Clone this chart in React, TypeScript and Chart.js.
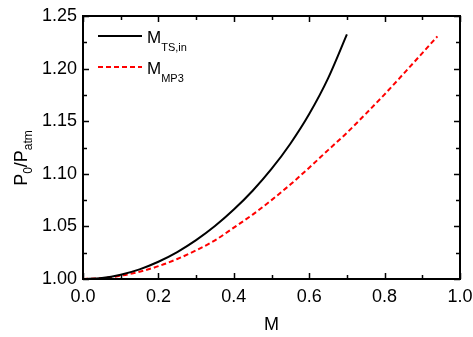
import React, { useEffect, useRef } from "react";
import { Chart, registerables } from "chart.js";

Chart.register(...registerables);

const mTS = [0, 0.05, 0.1, 0.15, 0.2, 0.25, 0.3, 0.35, 0.4, 0.45, 0.5, 0.55, 0.6, 0.65, 0.7];
const p0TS = [1.0, 1.001, 1.0041, 1.0092, 1.0164, 1.0256, 1.0369, 1.0503, 1.066, 1.0839, 1.1046, 1.1286, 1.1568, 1.1907, 1.2325];

const mMP3 = [0, 0.05, 0.1, 0.15, 0.2, 0.25, 0.3, 0.35, 0.4, 0.45, 0.5, 0.55, 0.6, 0.65, 0.7, 0.75, 0.8, 0.85, 0.9, 0.94];
const p0MP3 = [1.0, 1.0008, 1.0031, 1.0069, 1.0122, 1.019, 1.0272, 1.0368, 1.0488, 1.0612, 1.075, 1.0898, 1.1058, 1.1225, 1.139, 1.157, 1.1755, 1.195, 1.2147, 1.2306];

const xMajorTicks = [0, 0.2, 0.4, 0.6, 0.8, 1.0];
const xMinorTicks = [0.1, 0.3, 0.5, 0.7, 0.9];
const yMajorTicks = [1.0, 1.05, 1.1, 1.15, 1.2, 1.25];
const yMinorTicks = [1.025, 1.075, 1.125, 1.175, 1.225];

const legendItems = [
  { main: "M", sub: "TS,in", color: "#000000", dash: [] as number[] },
  { main: "M", sub: "MP3", color: "#ff0000", dash: [5, 3] },
];

const FONT = "'Liberation Sans', Arial, sans-serif";

const decorPlugin = {
  id: "decor",
  afterDatasetsDraw(chart: any) {
    const { ctx, chartArea, scales } = chart;
    const { left, right, top, bottom } = chartArea;
    const xs = scales.x;
    const ys = scales.y;
    ctx.save();
    ctx.strokeStyle = "#000";
    ctx.lineWidth = 2;
    ctx.setLineDash([]);
    ctx.strokeRect(left, top, right - left, bottom - top);
    ctx.lineWidth = 1.5;
    const majLen = 6;
    const minLen = 4;
    ctx.beginPath();
    const xt = (v: number, len: number) => {
      const p = Math.round(xs.getPixelForValue(v)) + 0.5;
      ctx.moveTo(p, bottom);
      ctx.lineTo(p, bottom - len);
      ctx.moveTo(p, top);
      ctx.lineTo(p, top + len);
    };
    const yt = (v: number, len: number) => {
      const p = Math.round(ys.getPixelForValue(v)) + 0.5;
      ctx.moveTo(left, p);
      ctx.lineTo(left + len, p);
      ctx.moveTo(right, p);
      ctx.lineTo(right - len, p);
    };
    xMajorTicks.forEach((v) => xt(v, majLen));
    xMinorTicks.forEach((v) => xt(v, minLen));
    yMajorTicks.forEach((v) => yt(v, majLen));
    yMinorTicks.forEach((v) => yt(v, minLen));
    ctx.stroke();

    // legend
    const lx0 = left + 15;
    const lx1 = left + 59;
    legendItems.forEach((it, i) => {
      const y = top + 20 + i * 31;
      ctx.strokeStyle = it.color;
      ctx.lineWidth = 2;
      ctx.setLineDash(it.dash);
      ctx.beginPath();
      ctx.moveTo(lx0, y);
      ctx.lineTo(lx1, y);
      ctx.stroke();
      ctx.setLineDash([]);
      ctx.fillStyle = "#000";
      ctx.textBaseline = "alphabetic";
      ctx.textAlign = "left";
      ctx.font = `17px ${FONT}`;
      const tx = lx1 + 5;
      ctx.fillText(it.main, tx, y + 7);
      const w = ctx.measureText(it.main).width;
      ctx.font = `11px ${FONT}`;
      ctx.fillText(it.sub, tx + w, y + 15);
    });

    // y title
    ctx.save();
    ctx.translate(27, 158);
    ctx.rotate(-Math.PI / 2);
    const parts = [
      { t: "P", sub: false },
      { t: "0", sub: true },
      { t: "/P", sub: false },
      { t: "atm", sub: true },
    ];
    let total = 0;
    parts.forEach((p) => {
      ctx.font = p.sub ? `12px ${FONT}` : `18px ${FONT}`;
      total += ctx.measureText(p.t).width;
    });
    let cx = -total / 2;
    ctx.fillStyle = "#000";
    ctx.textAlign = "left";
    ctx.textBaseline = "alphabetic";
    parts.forEach((p) => {
      ctx.font = p.sub ? `12px ${FONT}` : `18px ${FONT}`;
      ctx.fillText(p.t, cx, p.sub ? 5 : 0);
      cx += ctx.measureText(p.t).width;
    });
    ctx.restore();

    // x title
    ctx.fillStyle = "#000";
    ctx.font = `18px ${FONT}`;
    ctx.textAlign = "center";
    ctx.textBaseline = "middle";
    ctx.fillText("M", (left + right) / 2, bottom + 46);
    ctx.restore();
  },
};

export default function App() {
  const ref = useRef<HTMLCanvasElement | null>(null);
  useEffect(() => {
    if (!ref.current) return;
    const chart = new Chart(ref.current, {
      type: "line",
      data: {
        datasets: [
          {
            label: "M_TS,in",
            data: mTS.map((m, i) => ({ x: m, y: p0TS[i] })),
            borderColor: "#000000",
            borderWidth: 2,
            pointRadius: 0,
            cubicInterpolationMode: "monotone",
            fill: false,
          },
          {
            label: "M_MP3",
            data: mMP3.map((m, i) => ({ x: m, y: p0MP3[i] })),
            borderColor: "#ff0000",
            borderWidth: 2,
            borderDash: [5, 3],
            pointRadius: 0,
            cubicInterpolationMode: "monotone",
            fill: false,
          },
        ],
      },
      options: {
        animation: false,
        responsive: false,
        maintainAspectRatio: false,
        layout: { padding: { left: 0, top: 16, right: 13, bottom: 0 } },
        plugins: { legend: { display: false }, tooltip: { enabled: false } },
        scales: {
          x: {
            type: "linear",
            min: 0,
            max: 1,
            grid: { display: false, drawTicks: false },
            border: { display: false },
            ticks: {
              stepSize: 0.2,
              padding: 7,
              color: "#000",
              font: { family: FONT, size: 18 },
              callback: (v: any) => Number(v).toFixed(1),
            },
            afterFit: (s: any) => {
              s.height = 58;
              s.paddingLeft = 0;
              s.paddingRight = 0;
            },
          },
          y: {
            type: "linear",
            min: 1.0,
            max: 1.25,
            grid: { display: false, drawTicks: false },
            border: { display: false },
            ticks: {
              stepSize: 0.05,
              padding: 6,
              color: "#000",
              font: { family: FONT, size: 18 },
              callback: (v: any) => Number(v).toFixed(2),
            },
            afterFit: (s: any) => {
              s.width = 83;
              s.paddingTop = 0;
              s.paddingBottom = 0;
            },
          },
        },
      },
      plugins: [decorPlugin],
    } as any);
    return () => chart.destroy();
  }, []);
  return (
    <div style={{ position: "fixed", left: 0, top: 0, width: 473, height: 337, background: "#fff" }}>
      <canvas ref={ref} width={473} height={337} style={{ width: 473, height: 337 }} />
    </div>
  );
}
